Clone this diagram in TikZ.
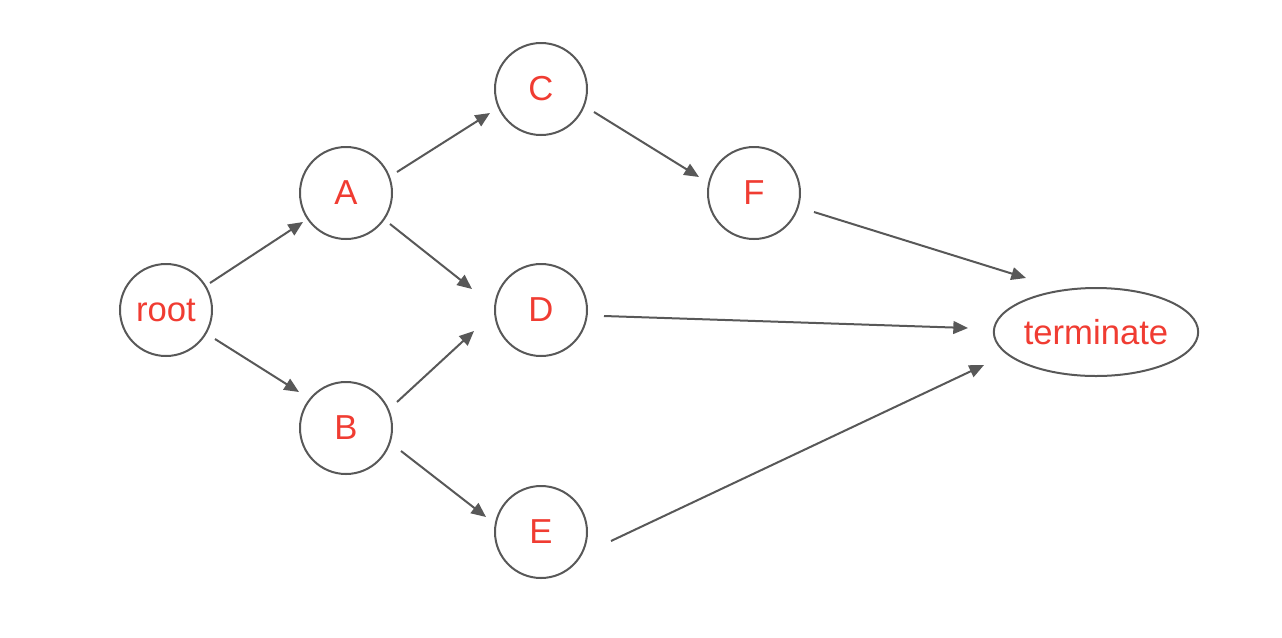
\documentclass[tikz,border=0pt]{standalone}
\usepackage{fontspec}
\setmainfont{Liberation Sans}
\usetikzlibrary{shapes.geometric,arrows.meta}
\definecolor{txtred}{RGB}{240,60,50}
\definecolor{edgegray}{RGB}{88,88,88}
\tikzset{
  vert/.style={circle, draw=edgegray, line width=1.5pt, minimum size=69pt, inner sep=0pt,
    text=txtred, font=\fontsize{26}{30}\selectfont},
  endvert/.style={ellipse, draw=edgegray, line width=1.5pt, minimum width=153pt, minimum height=66pt,
    inner sep=0pt, text=txtred, font=\fontsize{26}{30}\selectfont},
  arr/.style={draw=edgegray, line width=1.5pt, -{Triangle[length=11pt,width=9.5pt]}}
}
\begin{document}
\begin{tikzpicture}[x=0.75pt,y=-0.75pt]
\useasboundingbox (0,0) rectangle (1282,637);
\node[vert] (root) at (166,310) {root};
\node[vert] (A) at (346,193) {A};
\node[vert] (B) at (346,428) {B};
\node[vert] (C) at (541,89) {C};
\node[vert] (D) at (541,310) {D};
\node[vert] (E) at (541,532) {E};
\node[vert] (F) at (754,193) {F};
\node[endvert] (T) at (1096,332) {terminate};

\draw[arr] ([shift={(44,-27)}]root.center) -- ([shift={(-43,29)}]A.center);
\draw[arr] ([shift={(49,29)}]root.center) -- ([shift={(-47,-36)}]B.center);
\draw[arr] ([shift={(51,-21)}]A.center) -- ([shift={(-51,24)}]C.center);
\draw[arr] ([shift={(44,31)}]A.center) -- ([shift={(-69,-21)}]D.center);
\draw[arr] ([shift={(51,-26)}]B.center) -- ([shift={(-67,21)}]D.center);
\draw[arr] ([shift={(55,23)}]B.center) -- ([shift={(-55,-15)}]E.center);
\draw[arr] ([shift={(53,23)}]C.center) -- ([shift={(-55,-16)}]F.center);
\draw[arr] ([shift={(63,6)}]D.center) -- ([shift={(-128,-4)}]T.center);
\draw[arr] ([shift={(60,19)}]F.center) -- ([shift={(-70,-54)}]T.center);
\draw[arr] ([shift={(70,9)}]E.center) -- ([shift={(-112,33)}]T.center);
\end{tikzpicture}
\end{document}
